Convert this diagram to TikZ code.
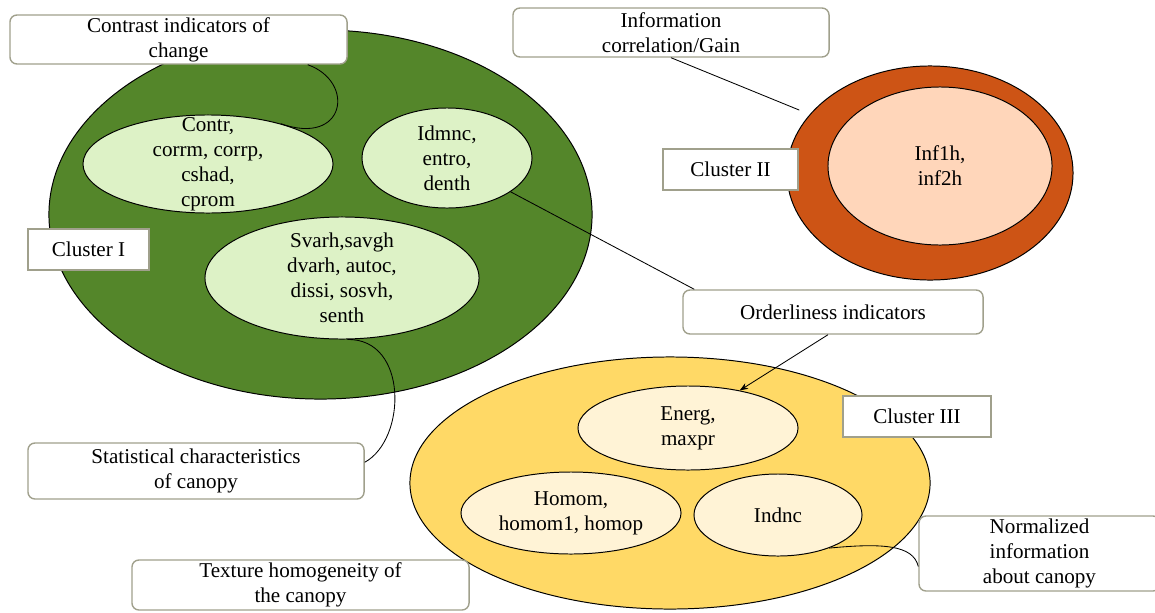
\documentclass[tikz,border=0pt]{standalone}
\usepackage{fontspec}
\setmainfont{Liberation Serif}
\usetikzlibrary{arrows.meta,shapes.geometric,calc}

\definecolor{leafgreen}{RGB}{84,134,42}
\definecolor{leaflight}{RGB}{221,242,198}
\definecolor{rust}{RGB}{205,84,21}
\definecolor{peach}{RGB}{255,214,186}
\definecolor{sand}{RGB}{255,217,102}
\definecolor{sandlight}{RGB}{255,243,214}
\definecolor{boxgray}{RGB}{160,160,140}

\begin{document}
\begin{tikzpicture}[x=0.025cm,y=-0.025cm,>={Stealth[length=6pt,width=4.5pt]},
  font=\fontsize{15}{17.8}\selectfont,
  blob/.style={draw,ellipse,inner sep=0pt,line width=0.7pt},
  txt/.style={align=center,inner sep=0pt},
  note/.style={draw=boxgray,line width=1pt,rounded corners=5pt,fill=white,align=center,inner sep=1pt},
  tag/.style={draw=boxgray,line width=1pt,fill=white,inner sep=1pt},
  link/.style={line width=0.6pt}]
\useasboundingbox (0,0) rectangle (1155,612);
% cluster I
\node[blob,fill=leafgreen,minimum width=13.575cm,minimum height=9.225cm] (c1) at (320.5,214.5) {};
\node[blob,fill=leaflight,minimum width=6.25cm,minimum height=2.45cm] (contr) at (208,164) {};
\node[txt] (contrT) at (contr) {Contr,\\corrm, corrp,\\cshad,\\cprom};
\node[blob,fill=leaflight,minimum width=4.25cm,minimum height=2.5cm] (idmnc) at (447,158) {};
\node[txt] (idmncT) at (idmnc) {Idmnc,\\entro,\\denth};
\node[blob,fill=leaflight,minimum width=6.85cm,minimum height=3.05cm] (svarh) at (342,278) {};
\node[txt] (svarhT) at (svarh) {Svarh,savgh\\dvarh, autoc,\\dissi, sosvh,\\senth};
% cluster II
\node[blob,fill=rust,minimum width=7.15cm,minimum height=5.35cm] (c2) at (930,173) {};
\node[blob,fill=peach,minimum width=5.6cm,minimum height=3.95cm] (inf) at (940,166) {};
\node[txt] (infT) at (inf) {Inf1h,\\inf2h};
% cluster III
\node[blob,fill=sand,minimum width=13cm,minimum height=6.3cm] (c3) at (670,483) {};
\node[blob,fill=sandlight,minimum width=5.5cm,minimum height=2.1cm] (energ) at (688,428) {};
\node[txt] (energT) at (energ) {Energ,\\maxpr};
\node[blob,fill=sandlight,minimum width=5.5cm,minimum height=2.05cm] (homom) at (571,513) {};
\node[txt] (homomT) at (homom) {Homom,\\homom1, homop};
\node[blob,fill=sandlight,minimum width=4.2cm,minimum height=2.05cm] (indnc) at (778,515) {};
\node[txt] (indncT) at (indnc) {Indnc};
% labels
\node[tag,minimum width=3.025cm,minimum height=1.025cm] (tagI) at (88.5,249.5) {Cluster I};
\node[tag,minimum width=3.375cm,minimum height=1.025cm] (tagII) at (730.5,169.5) {Cluster II};
\node[tag,minimum width=3.7cm,minimum height=1.025cm] (tagIII) at (917,416.5) {Cluster III};
\node[note,minimum width=8.425cm,minimum height=1.225cm] (contrast) at (178.5,39.5) {Contrast indicators of\\change};
\node[note,minimum width=7.9cm,minimum height=1.225cm] (info) at (671,32.5) {Information\\correlation/Gain};
\node[note,minimum width=7.5cm,minimum height=1.1cm] (order) at (833,312) {Orderliness indicators};
\node[note,minimum width=8.4cm,minimum height=1.4cm] (stat) at (196,471) {Statistical characteristics\\of canopy};
\node[note,minimum width=8.425cm,minimum height=1.25cm] (texture) at (300.5,585) {Texture homogeneity of\\the canopy};
\node[note,minimum width=6.025cm,minimum height=1.875cm] (norm) at (1039.5,553.5) {Normalized\\information\\about canopy};
% connectors
\draw[link] ($(contrast.south east)+(-40,0)$) .. controls +(48,17) and +(65,23) .. (contr.29);
\draw[link] (svarh.-85) .. controls +(61,-1) and +(42,-23) .. ($(stat.north east)+(0,20)$);
\draw[link] (idmnc.-28) -- ($(order.north west)+(12,0)$);
\draw[link,shorten >=8pt] (info.south) -- (c2.154);
\draw[link,->] ($(order.south)+(-5,0)$) -- (energ.36);
\draw[link] (indnc.-33) .. controls +(52,-5) and +(-5,-22) .. ($(norm.west)+(0,13)$);
\end{tikzpicture}
\end{document}
